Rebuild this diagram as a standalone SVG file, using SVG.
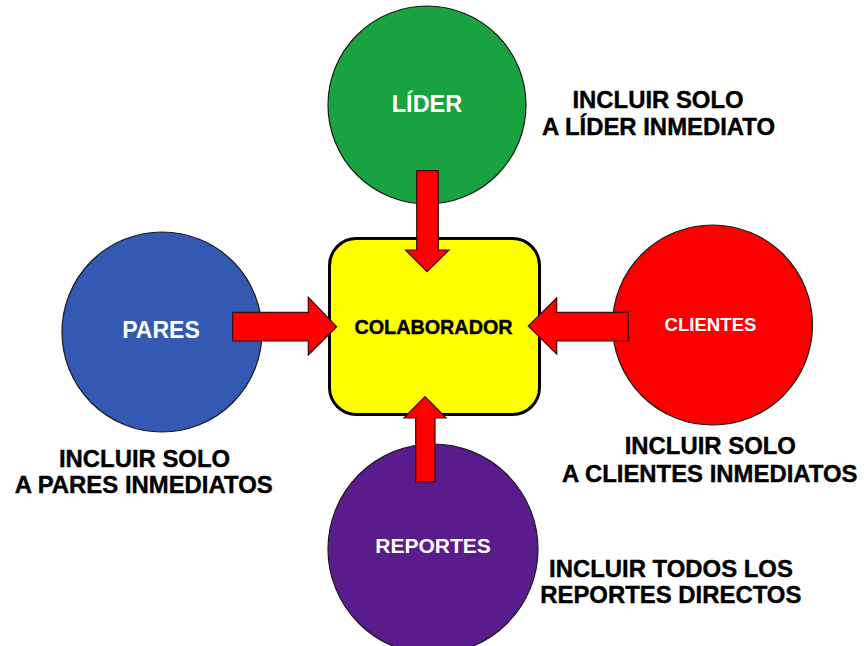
<svg xmlns="http://www.w3.org/2000/svg" width="866" height="646" viewBox="0 0 866 646">
  <style>
    .circle { stroke: #1a1a1a; stroke-width: 1.2; }
    .node-label { font-family: "Liberation Sans", Arial, sans-serif; font-weight: bold; fill: #ffffff; text-anchor: middle; }
    .note { font-family: "Liberation Sans", Arial, sans-serif; font-weight: bold; font-size: 23.9px; fill: #000000; stroke: #000000; stroke-width: 0.4; text-anchor: middle; }
    .arrow { fill: #ff0000; stroke: #3a0a0a; stroke-width: 1.2; stroke-linejoin: miter; }
  </style>
  <rect width="866" height="646" fill="#ffffff"/>

  <!-- central node -->
  <g id="colaborador">
    <rect x="329.5" y="238.5" width="210" height="176" rx="27" ry="27" fill="#ffff00" stroke="#000000" stroke-width="3"/>
    <text x="433.5" y="333.5" font-family="Liberation Sans, Arial, sans-serif" font-weight="bold" font-size="19.8" text-anchor="middle" fill="#000000" stroke="#000000" stroke-width="0.4">COLABORADOR</text>
  </g>

  <g id="lider">
    <circle class="circle" cx="427" cy="105" r="99" fill="#19a340"/>
    <text class="node-label" x="427" y="111.5" font-size="23.5">LÍDER</text>
  </g>

  <g id="pares">
    <circle class="circle" cx="162" cy="332" r="100" fill="#3459b3"/>
    <text class="node-label" x="161" y="338" font-size="23">PARES</text>
  </g>

  <g id="clientes">
    <circle class="circle" cx="712.5" cy="325" r="100" fill="#fc0000"/>
    <text class="node-label" x="710.5" y="331" font-size="18.6">CLIENTES</text>
  </g>

  <g id="reportes">
    <circle class="circle" cx="433" cy="549" r="105" fill="#5a1b8c"/>
    <text class="node-label" x="433" y="553" font-size="21">REPORTES</text>
  </g>

  <!-- block arrows pointing into the central node -->
  <g id="connectors">
    <polygon class="arrow" points="416.7,170.7 438.3,170.7 438.3,250 449,250 427,271.7 405.5,250 416.7,250"/>
    <polygon class="arrow" points="415.7,481.7 435,481.7 435,418 446,418 425,396.7 404,418 415.7,418"/>
    <polygon class="arrow" points="232.7,312.3 308.3,312.3 308.3,297.3 336.7,326.7 308.3,355 308.3,341 232.7,341"/>
    <polygon class="arrow" points="628.3,312.3 556.7,312.3 556.7,298 528.3,326 556.7,354 556.7,341 628.3,341"/>
  </g>

  <!-- notes -->
  <g id="note-lider">
    <text class="note" x="658" y="107.7">INCLUIR SOLO</text>
    <text class="note" x="658.5" y="135">A LÍDER INMEDIATO</text>
  </g>
  <g id="note-pares">
    <text class="note" x="144.5" y="466.7">INCLUIR SOLO</text>
    <text class="note" x="143.7" y="493.3">A PARES INMEDIATOS</text>
  </g>
  <g id="note-clientes">
    <text class="note" x="710.3" y="454.3">INCLUIR SOLO</text>
    <text class="note" x="709.7" y="481.7">A CLIENTES INMEDIATOS</text>
  </g>
  <g id="note-reportes">
    <text class="note" x="671" y="577.3">INCLUIR TODOS LOS</text>
    <text class="note" x="670.8" y="603.3">REPORTES DIRECTOS</text>
  </g>
</svg>
